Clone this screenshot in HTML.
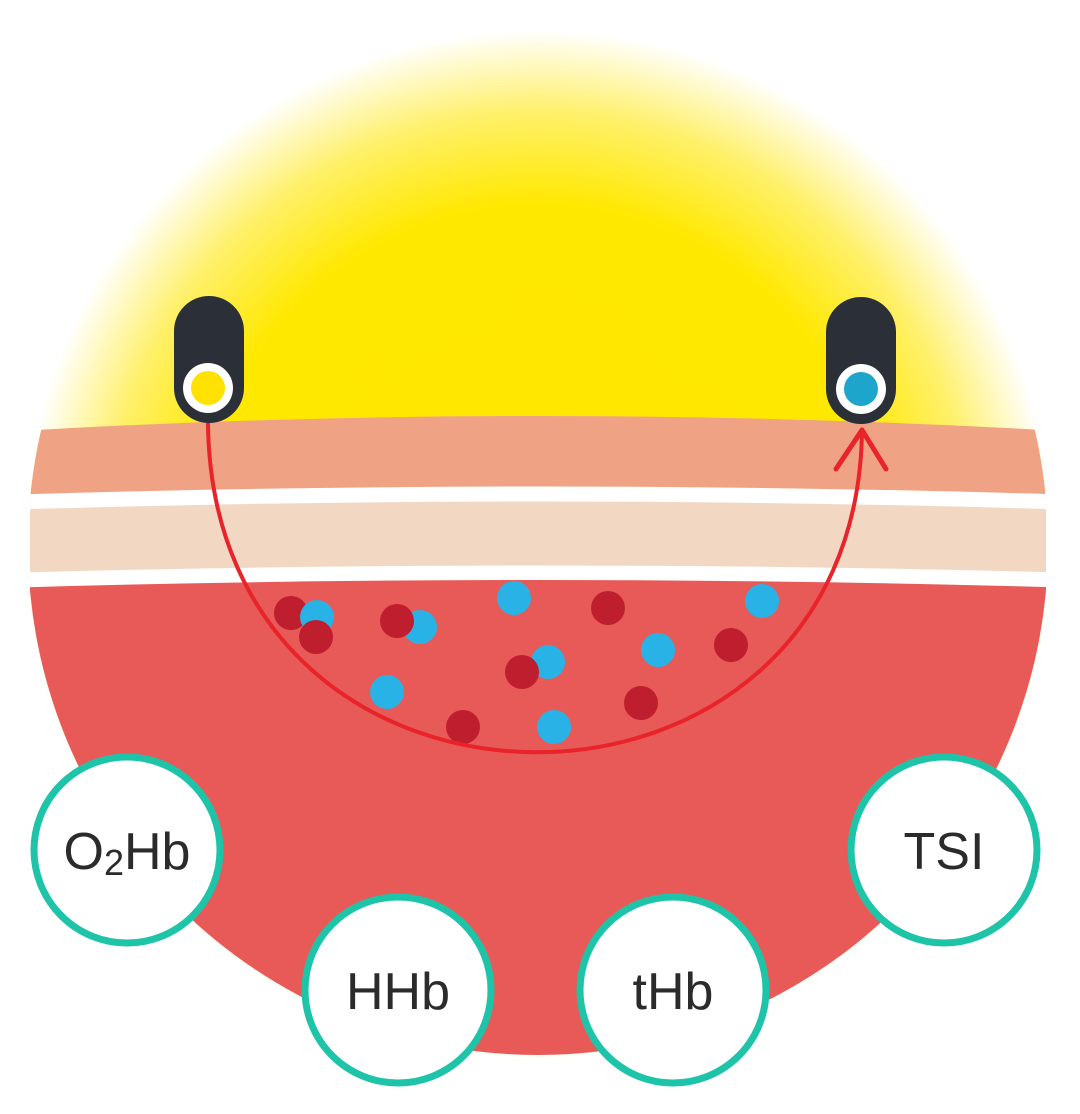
<!DOCTYPE html>
<html><head><meta charset="utf-8"><style>
html,body{margin:0;padding:0;background:#fff;}
svg{display:block;}
</style></head><body>
<svg width="1080" height="1114" viewBox="0 0 1080 1114" xmlns="http://www.w3.org/2000/svg">
<defs>
<radialGradient id="g" cx="538" cy="545" r="515" gradientUnits="userSpaceOnUse">
<stop offset="0" stop-color="#FFE600"/>
<stop offset="0.66" stop-color="#FFE800"/>
<stop offset="0.84" stop-color="#FFF06A"/>
<stop offset="1" stop-color="#FFFFFF"/>
</radialGradient>
<clipPath id="c"><circle cx="538" cy="545" r="510"/></clipPath>
</defs>
<rect width="1080" height="1114" fill="#fff"/>
<circle cx="538" cy="545" r="515" fill="url(#g)"/>
<g clip-path="url(#c)">
<path d="M0,432 Q538,400 1080,432 L1080,1114 L0,1114 Z" fill="#F0A384"/>
<path d="M0,495 Q538,478 1080,495 L1080,1114 L0,1114 Z" fill="#FFFFFF"/>
<path d="M0,510 Q538,493 1080,510 L1080,1114 L0,1114 Z" fill="#F2D8C3"/>
<path d="M0,573 Q538,558 1080,573 L1080,1114 L0,1114 Z" fill="#FFFFFF"/>
<path d="M0,588 Q538,572 1080,588 L1080,1114 L0,1114 Z" fill="#E85A57"/>
</g>
<rect x="0" y="0" width="30" height="1114" fill="#fff"/>
<rect x="1046" y="0" width="34" height="1114" fill="#fff"/>
<g>
<circle cx="291" cy="613" r="17" fill="#BE1E2D"/>
<circle cx="317" cy="617" r="17" fill="#29B2E6"/>
<circle cx="316" cy="637" r="17" fill="#BE1E2D"/>
<circle cx="420" cy="627" r="17" fill="#29B2E6"/>
<circle cx="397" cy="621" r="17" fill="#BE1E2D"/>
<circle cx="514" cy="598" r="17" fill="#29B2E6"/>
<circle cx="608" cy="608" r="17" fill="#BE1E2D"/>
<circle cx="548" cy="662" r="17" fill="#29B2E6"/>
<circle cx="522" cy="672" r="17" fill="#BE1E2D"/>
<circle cx="658" cy="650" r="17" fill="#29B2E6"/>
<circle cx="731" cy="645" r="17" fill="#BE1E2D"/>
<circle cx="762" cy="601" r="17" fill="#29B2E6"/>
<circle cx="387" cy="692" r="17" fill="#29B2E6"/>
<circle cx="463" cy="727" r="17" fill="#BE1E2D"/>
<circle cx="554" cy="727" r="17" fill="#29B2E6"/>
<circle cx="641" cy="703" r="17" fill="#BE1E2D"/>
</g>
<path d="M208,423 C212,861 858,861 862,429" fill="none" stroke="#E8232A" stroke-width="4"/>
<path d="M836,469 L862,430 L886,469" fill="none" stroke="#E8232A" stroke-width="5" stroke-linecap="round" stroke-linejoin="round"/>
<rect x="174" y="296" width="70" height="127" rx="35" fill="#2A2F38"/>
<circle cx="208" cy="388" r="25" fill="#fff"/>
<circle cx="208" cy="388" r="17" fill="#FFE200"/>
<rect x="826" y="297" width="70" height="127" rx="35" fill="#2A2F38"/>
<circle cx="861" cy="389" r="25" fill="#fff"/>
<circle cx="861" cy="389" r="17" fill="#1EA5CC"/>
<g fill="#fff" stroke="#1DC4A8" stroke-width="7">
<circle cx="127" cy="850" r="93"/>
<circle cx="398" cy="990" r="93"/>
<circle cx="673" cy="990" r="93"/>
<circle cx="944" cy="850" r="93"/>
</g>
<g font-family="Liberation Sans, sans-serif" font-size="52" fill="#2B2B2B" text-anchor="middle">
<text x="127" y="869">O<tspan font-size="36" dy="6">2</tspan><tspan dy="-6">Hb</tspan></text>
<text x="398" y="1009">HHb</text>
<text x="673" y="1009">tHb</text>
<text x="944" y="869">TSI</text>
</g>
</svg>
</body></html>
